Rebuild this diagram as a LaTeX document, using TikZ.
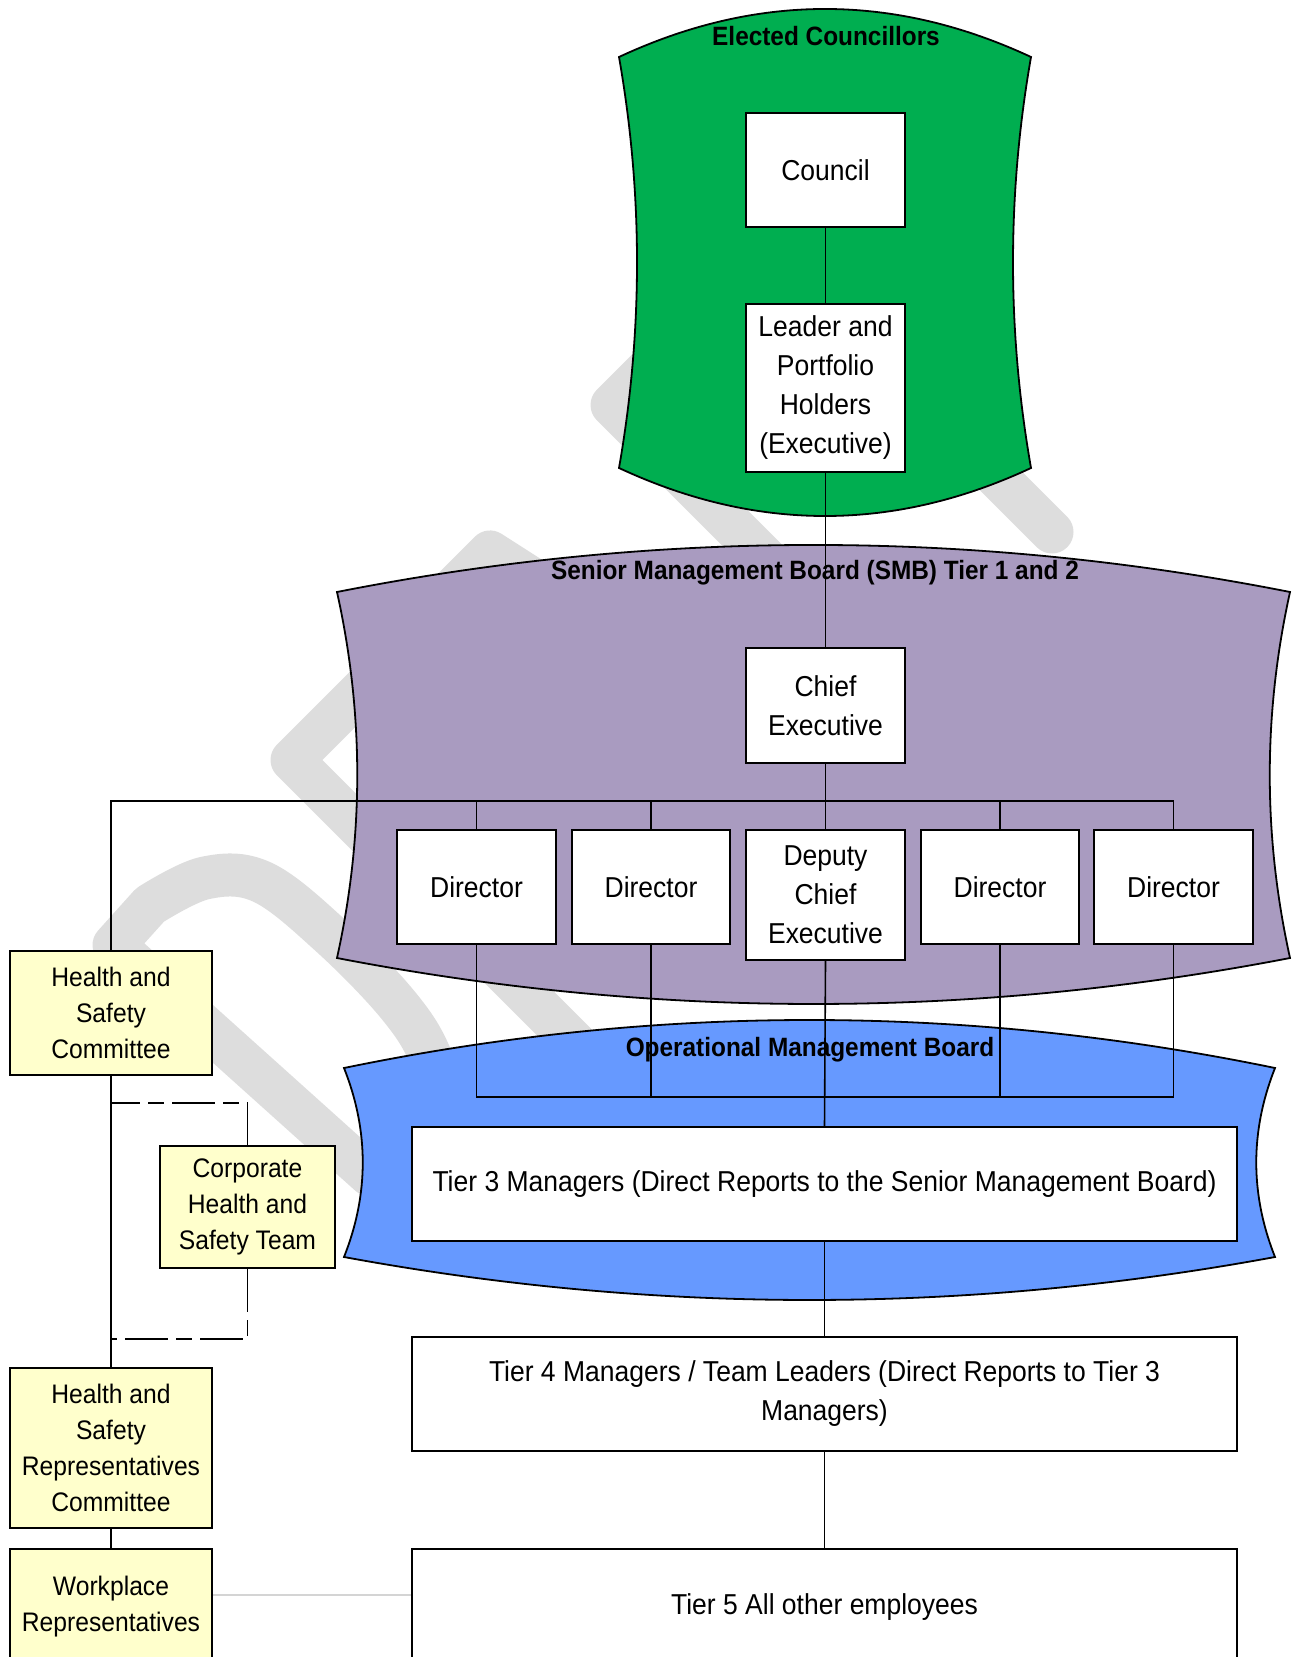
\documentclass[tikz,border=0pt]{standalone}
\usepackage{fontspec}
\setmainfont{Liberation Sans}[FakeStretch=0.92]
\definecolor{egreen}{RGB}{0,174,80}
\definecolor{smbpurple}{RGB}{169,155,192}
\definecolor{ombblue}{RGB}{102,153,255}
\definecolor{yelfill}{RGB}{255,255,204}
\definecolor{wmgray}{RGB}{221,221,221}
\definecolor{lgray}{RGB}{212,212,212}
\pgfdeclarelayer{wmk}
\pgfdeclarelayer{bg}
\pgfdeclarelayer{lines}
\pgfsetlayers{wmk,bg,lines,main}
\tikzset{
  wbox/.style={draw=black, line width=1pt, fill=white, align=center, inner sep=0pt,
    font=\fontsize{14.4}{19.5}\selectfont},
  ybox/.style={draw=black, line width=1pt, fill=yelfill, align=center, inner sep=0pt,
    font=\fontsize{13.4}{18}\selectfont},
  conn/.style={line width=0.8pt},
  dconn/.style={line width=0.8pt, dash pattern=on 21.5pt off 4pt on 8pt off 4pt},
  head/.style={font=\bfseries\fontsize{13.25}{16}\selectfont, inner sep=0pt},
  wm/.style={line width=21.5pt, draw=wmgray, line cap=round, line join=round},
  banner/.style={draw=black, line width=0.9pt},
}
\begin{document}
\begin{tikzpicture}[x=0.5pt,y=-0.5pt]
\useasboundingbox (0,0) rectangle (1295,1657);
\clip (0,0) rectangle (1295,1657);

% ---------- nodes ----------
\node[wbox, minimum width=79.5pt, minimum height=57pt] (council) at (825.5,170) {Council};
\node[wbox, minimum width=79.5pt, minimum height=84pt] (leader) at (825.5,388) {Leader and\\Portfolio\\Holders\\(Executive)};
\node[wbox, minimum width=79.5pt, minimum height=57.5pt] (ce) at (825.5,705.5) {Chief\\Executive};
\node[wbox, minimum width=79.5pt, minimum height=57pt] (d1) at (476.5,887) {Director};
\node[wbox, minimum width=79pt, minimum height=57pt] (d2) at (651,887) {Director};
\node[wbox, minimum width=79.5pt, minimum height=65pt] (dce) at (825.5,895) {Deputy\\Chief\\Executive};
\node[wbox, minimum width=79pt, minimum height=57pt] (d3) at (1000,887) {Director};
\node[wbox, minimum width=79.5pt, minimum height=57pt] (d4) at (1173.5,887) {Director};
\node[wbox, minimum width=412.5pt, minimum height=57pt] (t3) at (824.5,1184) {Tier 3 Managers (Direct Reports to the Senior Management Board)};
\node[wbox, minimum width=412.5pt, minimum height=57pt] (t4) at (824.5,1394) {Tier 4 Managers / Team Leaders (Direct Reports to Tier 3\\Managers)};
\node[wbox, minimum width=412.5pt, minimum height=58pt] (t5) at (824.5,1607) {Tier 5 All other employees};
\node[ybox, minimum width=101pt, minimum height=62pt] (hsc) at (111,1013) {Health and\\Safety\\Committee};
\node[ybox, minimum width=87.5pt, minimum height=61pt] (chst) at (247.5,1207) {Corporate\\Health and\\Safety Team};
\node[ybox, minimum width=101pt, minimum height=80pt] (hsrc) at (111,1448) {Health and\\Safety\\Representatives\\Committee};
\node[ybox, minimum width=101pt, minimum height=58pt] (wr) at (111,1607) {Workplace\\Representatives};

% ---------- watermark ----------
\begin{pgfonlayer}{wmk}
\fill[white] (0,0) rectangle (1295,1657);
\draw[wm] (370,1175) -- (114,945) -- plot[smooth, tension=0.6] coordinates {(150,905) (205,878) (262,882) (330,935) (398,1005) (432,1060) (455,1140)};
\draw[wm] (380,672) -- (292,760) -- (575,1043);
\draw[wm] (420,622) -- (490,552) -- (565,600);
\draw[wm] (700,317) -- (612,405) -- (775,568);
\draw[wm] (900,380) -- (1052,532);
\end{pgfonlayer}

% ---------- banners ----------
\begin{pgfonlayer}{bg}
\draw[banner, fill=egreen] (619,57) .. controls (756.3,-7) and (893.7,-7) .. (1031,57)
  .. controls (1007,194) and (1007,331) .. (1031,468)
  .. controls (893.7,532) and (756.3,532) .. (619,468)
  .. controls (643,331) and (643,194) .. (619,57) -- cycle;
\draw[banner, fill=smbpurple] (337,592) .. controls (654.7,529.3) and (972.3,529.3) .. (1290,592)
  .. controls (1263,714) and (1263,836) .. (1290,958)
  .. controls (972.3,1019.3) and (654.7,1019.3) .. (337,958)
  .. controls (364,836) and (364,714) .. (337,592) -- cycle;
\draw[banner, fill=ombblue] (344,1068) .. controls (654.3,1004) and (964.7,1004) .. (1275,1068)
  .. controls (1250,1131) and (1250,1194) .. (1275,1257)
  .. controls (964.7,1314.3) and (654.3,1314.3) .. (344,1257)
  .. controls (369,1194) and (369,1131) .. (344,1068) -- cycle;
\node[head] (hec) at (826,36) {Elected Councillors};
\node[head] (hsmb) at (815,573) {Senior Management Board (SMB) Tier 1 and 2};
\node[head] (homb) at (810,1050) {Operational Management Board};
\end{pgfonlayer}

% ---------- connectors ----------
\begin{pgfonlayer}{lines}
\coordinate (busy) at (0,801);
\coordinate (lbusy) at (0,1097);
\coordinate (dsh1) at (0,1103);
\coordinate (dsh2) at (0,1339);
\coordinate (gy) at (0,1595);
\draw[conn] (council.south) -- (leader.north);
\draw[conn] (leader.south) -- (ce.north);
\draw[conn] (ce.south) -- (dce.north);
\draw[conn] (hsc.north) |- (d4.north |- busy) -- (d4.north);
\draw[conn] (d1.north |- busy) -- (d1.north);
\draw[conn] (d2.north |- busy) -- (d2.north);
\draw[conn] (d3.north |- busy) -- (d3.north);
\draw[conn] (d1.south) |- (d4.south |- lbusy) -- (d4.south);
\draw[conn] (d2.south) -- (d2.south |- lbusy);
\draw[conn] (d3.south) -- (d3.south |- lbusy);
\draw[conn] (dce.south) -- (t3.north);
\draw[conn] (t3.south) -- (t4.north);
\draw[conn] (t4.south) -- (t5.north);
\draw[conn] (hsc.south) -- (hsrc.north);
\draw[conn] (hsrc.south) -- (wr.north);
\draw[dconn] (chst.north) -- (chst.north |- dsh1) -- (hsc.south |- dsh1);
\draw[dconn] (chst.south) -- (chst.south |- dsh2) -- (hsc.south |- dsh2);
\draw[conn, draw=lgray] (wr.east |- gy) -- (t5.west |- gy);
\end{pgfonlayer}
\end{tikzpicture}
\end{document}
